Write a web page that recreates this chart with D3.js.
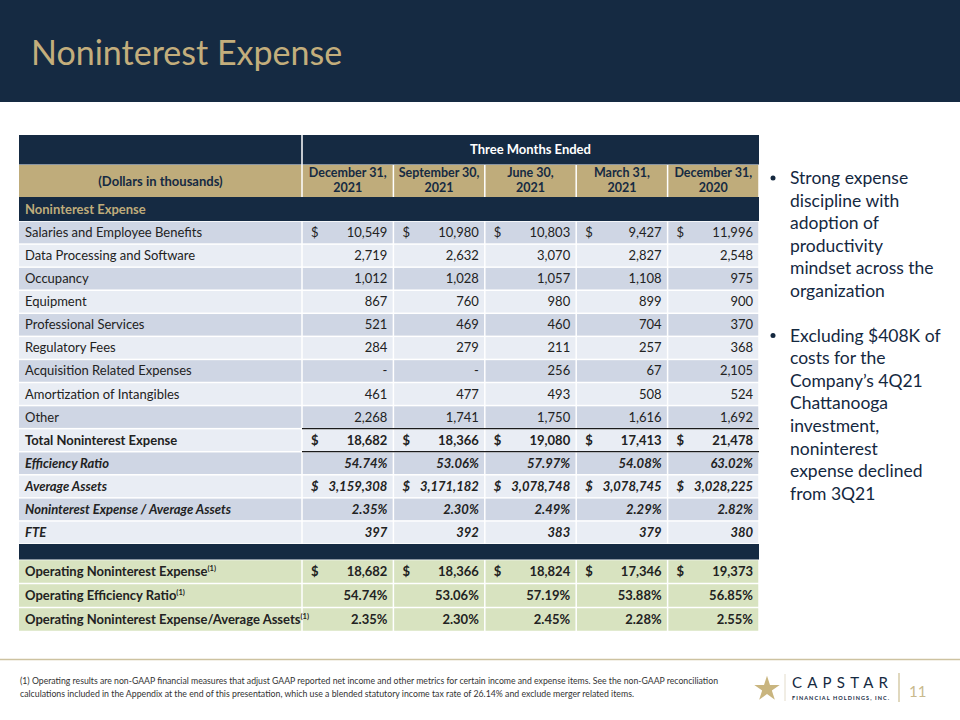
<!DOCTYPE html>
<html><head><meta charset="utf-8">
<script src="https://cdn.jsdelivr.net/npm/d3@7"></script>
<style>body{margin:0;background:#fff}svg{display:block}</style>
</head><body><svg id="c" width="960" height="720"></svg>
<script>
// ---------- data ----------
const quarters = [["December 31,","2021"],["September 30,","2021"],["June 30,","2021"],["March 31,","2021"],["December 31,","2020"]];
const expenseLabels = ["Salaries and Employee Benefits","Data Processing and Software","Occupancy","Equipment","Professional Services","Regulatory Fees","Acquisition Related Expenses","Amortization of Intangibles","Other"];
const salaries = [10549,10980,10803,9427,11996];
const dataProcessing = [2719,2632,3070,2827,2548];
const occupancy = [1012,1028,1057,1108,975];
const equipment = [867,760,980,899,900];
const professional = [521,469,460,704,370];
const regulatory = [284,279,211,257,368];
const acquisition = [0,0,256,67,2105];
const amortization = [461,477,493,508,524];
const otherExp = [2268,1741,1750,1616,1692];
const totalNIE = [18682,18366,19080,17413,21478];
const efficiency = [54.74,53.06,57.97,54.08,63.02];
const avgAssets = [3159308,3171182,3078748,3078745,3028225];
const nieToAssets = [2.35,2.30,2.49,2.29,2.82];
const fte = [397,392,383,379,380];
const opNIE = [18682,18366,18824,17346,19373];
const opEfficiency = [54.74,53.06,57.19,53.88,56.85];
const opNIEToAssets = [2.35,2.30,2.45,2.28,2.55];
const bullets = [
  ["Strong expense","discipline with","adoption of","productivity","mindset across the","organization"],
  ["Excluding $408K of","costs for the","Company\u2019s 4Q21","Chattanooga","investment,","noninterest","expense declined","from 3Q21"]
];
const footnote = ["(1) Operating results are non-GAAP financial measures that adjust GAAP reported net income and other metrics for certain income and expense items. See the non-GAAP reconciliation",
  "calculations included in the Appendix at the end of this presentation, which use a blended statutory income tax rate of 26.14% and exclude merger related items."];

// ---------- styles ----------
const NAVY = "#152a42", GOLD = "#bfac7b", TITLEGOLD = "#c3ae7c";
const ROW_DARK = "#cfd6e4", ROW_LIGHT = "#e9edf4", GREEN = "#d8e3c0", TXT = "#222";
const FONT = "Lato, 'Open Sans', sans-serif";
const FS = 13;

const expenseValues = [salaries,dataProcessing,occupancy,equipment,professional,regulatory,acquisition,amortization,otherExp];
const rows = expenseLabels.map((l,i)=>({label:l, values:expenseValues[i], kind:"int", dollar:i===0, weight:"normal", italic:false}));
rows.push({label:"Total Noninterest Expense", values:totalNIE, kind:"int", dollar:true, weight:"bold", italic:false, total:true});
rows.push({label:"Efficiency Ratio", values:efficiency, kind:"pct", dollar:false, weight:"bold", italic:true});
rows.push({label:"Average Assets", values:avgAssets, kind:"int", dollar:true, weight:"bold", italic:true});
rows.push({label:"Noninterest Expense / Average Assets", values:nieToAssets, kind:"pct", dollar:false, weight:"bold", italic:true});
rows.push({label:"FTE", values:fte, kind:"int", dollar:false, weight:"bold", italic:true});
const opRows = [
  {label:"Operating Noninterest Expense", values:opNIE, kind:"int", dollar:true},
  {label:"Operating Efficiency Ratio", values:opEfficiency, kind:"pct", dollar:false},
  {label:"Operating Noninterest Expense/Average Assets", values:opNIEToAssets, kind:"pct", dollar:false}
];

const fmtInt = d3.format(",");
const fmt = (v,kind) => kind==="pct" ? d3.format(".2f")(v)+"%" : (v===0 ? "-" : fmtInt(v));

const svg = d3.select("#c");

// ---------- header band ----------
svg.append("rect").attr("x",0).attr("y",0).attr("width",960).attr("height",102).attr("fill",NAVY);
svg.append("text").attr("x",31).attr("y",65).attr("fill",TITLEGOLD)
  .attr("font-family",FONT).attr("font-size",34).text("Noninterest Expense");

// ---------- table scales ----------
const tableLeft = 19, tableRight = 759, labelRight = 302;
const x = d3.scaleBand().domain(d3.range(quarters.length)).range([labelRight, tableRight]);
const G = 0.75;

const yH1 = 135, hH1 = 29.5, yH2 = 165, hH2 = 32, ySec = 197, hSec = 24;
const yData = d3.scaleBand().domain(d3.range(rows.length)).range([221, 544]);
const ySpacer = 544, hSpacer = 15.5;
const yOp = d3.scaleBand().domain(d3.range(opRows.length)).range([559.5, 631.5]);

// header row 1
svg.append("rect").attr("x",tableLeft).attr("y",yH1).attr("width",labelRight-tableLeft-G).attr("height",hH1).attr("fill",NAVY);
svg.append("rect").attr("x",labelRight+G).attr("y",yH1).attr("width",tableRight-labelRight-G).attr("height",hH1).attr("fill",NAVY);
svg.append("text").attr("x",(labelRight+tableRight)/2).attr("y",yH1+hH1/2+4.5).attr("text-anchor","middle")
  .attr("fill","#fff").attr("font-family",FONT).attr("font-weight","bold").attr("font-size",FS).text("Three Months Ended");

// header row 2
svg.append("rect").attr("x",tableLeft).attr("y",yH2).attr("width",labelRight-tableLeft-G).attr("height",hH2).attr("fill",GOLD);
svg.append("text").attr("x",(tableLeft+labelRight)/2).attr("y",yH2+hH2/2+4.5).attr("text-anchor","middle")
  .attr("fill",NAVY).attr("font-family",FONT).attr("font-weight","bold").attr("font-size",FS).text("(Dollars in thousands)");
const h2 = svg.append("g").selectAll("g").data(quarters).join("g");
h2.append("rect").attr("x",(d,i)=>x(i)+G).attr("y",yH2).attr("width",x.bandwidth()-2*G).attr("height",hH2).attr("fill",GOLD);
h2.selectAll("text").data((d,i)=>d.map(t=>({t,i}))).join("text")
  .attr("x",d=>x(d.i)+x.bandwidth()/2).attr("y",(d,j)=>yH2+12 + j*15).attr("text-anchor","middle")
  .attr("fill",NAVY).attr("font-family",FONT).attr("font-weight","bold").attr("font-size",12.5).text(d=>d.t);

// section row
svg.append("rect").attr("x",tableLeft).attr("y",ySec).attr("width",tableRight-tableLeft).attr("height",hSec).attr("fill",NAVY);
svg.append("text").attr("x",25).attr("y",ySec+hSec/2+4.5).attr("fill",GOLD).attr("font-family",FONT)
  .attr("font-weight","bold").attr("font-size",FS).text("Noninterest Expense");

// data rows
function drawRows(data, yScale, colorFn, opts) {
  const g = svg.append("g").selectAll("g").data(data).join("g")
    .attr("transform",(d,i)=>`translate(0,${yScale(i)})`);
  const h = yScale.bandwidth();
  g.append("rect").attr("x",tableLeft).attr("y",G).attr("width",labelRight-tableLeft-G).attr("height",h-2*G).attr("fill",colorFn);
  g.selectAll("rect.c").data(d=>d.values.map(v=>({v,row:d}))).join("rect").attr("class","c")
    .attr("x",(d,i)=>x(i)+G).attr("y",G).attr("width",x.bandwidth()-2*G).attr("height",h-2*G)
    .attr("fill",d=>colorFn(d.row, data.indexOf(d.row)));
  const lab = g.append("text").attr("x",25).attr("y",h/2+4.5).attr("fill",TXT).attr("font-family",FONT).attr("font-size",FS)
    .attr("font-weight",d=>opts.bold?"bold":d.weight).attr("font-style",d=>d.italic?"italic":"normal");
  lab.append("tspan").text(d=>d.label);
  if (opts.sup) lab.append("tspan").attr("font-size",7.5).attr("dy",-5).text("(1)");
  g.selectAll("text.v").data(d=>d.values.map(v=>({v,row:d}))).join("text").attr("class","v")
    .attr("x",(d,i)=>x(i)+x.bandwidth()-6).attr("y",h/2+4.5).attr("text-anchor","end")
    .attr("fill",TXT).attr("font-family",FONT).attr("font-size",FS)
    .attr("font-weight",d=>opts.bold?"bold":d.row.weight).attr("font-style",d=>d.row.italic?"italic":"normal")
    .text(d=>fmt(d.v,d.row.kind));
  g.selectAll("text.d").data(d=>d.dollar?d.values.map(v=>({v,row:d})):[]).join("text").attr("class","d")
    .attr("x",(d,i)=>x(i)+9).attr("y",h/2+4.5)
    .attr("fill",TXT).attr("font-family",FONT).attr("font-size",FS)
    .attr("font-weight",d=>opts.bold?"bold":d.row.weight).attr("font-style",d=>d.row.italic?"italic":"normal")
    .text("$");
}
drawRows(rows, yData, (d,i)=> i%2===0 ? ROW_DARK : ROW_LIGHT, {});
drawRows(opRows, yOp, ()=>GREEN, {bold:true, sup:true});

// total borders
const ti = rows.findIndex(r=>r.total);
[yData(ti), yData(ti)+yData.bandwidth()].forEach(yy=>{
  svg.append("line").attr("x1",labelRight).attr("x2",tableRight).attr("y1",yy).attr("y2",yy)
    .attr("stroke","#1b1b1b").attr("stroke-width",1.3);
});

// spacer
svg.append("rect").attr("x",tableLeft).attr("y",ySpacer).attr("width",tableRight-tableLeft).attr("height",hSpacer).attr("fill",NAVY);

// ---------- bullets ----------
const bl = svg.append("g").attr("font-family",FONT).attr("font-size",17.5).attr("fill","#14283f");
let yy = 184;
bullets.forEach((lines)=>{
  bl.append("circle").attr("cx",773).attr("cy",yy-6).attr("r",2.5);
  lines.forEach((ln)=>{
    bl.append("text").attr("x",790).attr("y",yy).text(ln);
    yy += 22.6;
  });
  yy += 22;
});

// ---------- footer ----------
svg.append("line").attr("x1",0).attr("x2",960).attr("y1",659.5).attr("y2",659.5).attr("stroke","#cdc2a0").attr("stroke-width",1.5);
footnote.forEach((t,i)=>{
  svg.append("text").attr("x",20).attr("y",684+i*12.5).attr("font-family",FONT).attr("font-size",8.5).attr("fill","#333")
    .attr("textLength", i===0?698:614).attr("lengthAdjust","spacingAndGlyphs").text(t);
});
// logo
svg.append("path").attr("d",d3.symbol().type(d3.symbolStar).size(200)()).attr("transform","translate(767,689)").attr("fill","#c9b57f");
svg.append("line").attr("x1",785).attr("x2",785).attr("y1",674).attr("y2",701).attr("stroke","#e3dccb").attr("stroke-width",1);
svg.append("text").attr("x",792).attr("y",688).attr("font-family",FONT).attr("font-size",15).attr("fill",NAVY)
  .attr("textLength",96).attr("lengthAdjust","spacing").text("CAPSTAR");
svg.append("text").attr("x",792).attr("y",700).attr("font-family",FONT).attr("font-size",5.5).attr("font-weight","bold").attr("fill",NAVY)
  .attr("textLength",97).attr("lengthAdjust","spacing").text("FINANCIAL HOLDINGS, INC.");
svg.append("line").attr("x1",899).attr("x2",899).attr("y1",673).attr("y2",702).attr("stroke","#d6cba8").attr("stroke-width",1.5);
svg.append("text").attr("x",909).attr("y",697).attr("font-family",FONT).attr("font-size",15).attr("fill","#c9b98c").text("11");
</script></body></html>
